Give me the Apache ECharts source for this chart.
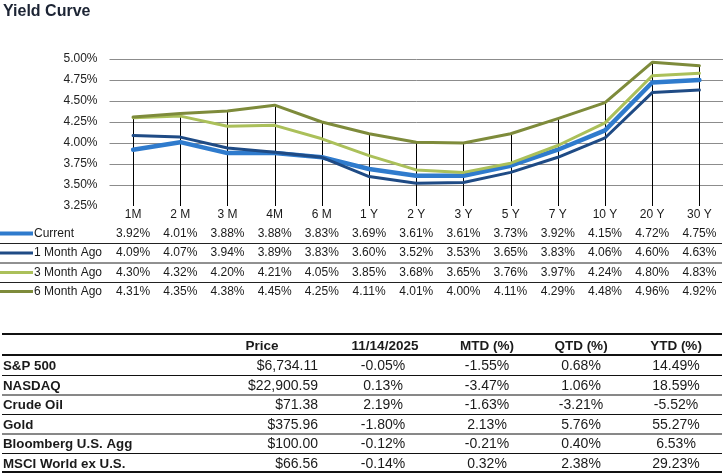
<!DOCTYPE html>
<html><head><meta charset="utf-8">
<script src="https://cdn.jsdelivr.net/npm/echarts@6/dist/echarts.min.js"></script>
<style>html,body{margin:0;padding:0;background:#fff}#c{width:723px;height:474px}</style>
</head><body><div id="c"></div><script>
// ---- Yield curve data ----
const categories = ['1M','2 M','3 M','4M','6 M','1 Y','2 Y','3 Y','5 Y','7 Y','10 Y','20 Y','30 Y'];
const seriesNames = ['Current','1 Month Ago','3 Month Ago','6 Month Ago'];
const current       = [3.92,4.01,3.88,3.88,3.83,3.69,3.61,3.61,3.73,3.92,4.15,4.72,4.75];
const oneMonthAgo   = [4.09,4.07,3.94,3.89,3.83,3.60,3.52,3.53,3.65,3.83,4.06,4.60,4.63];
const threeMonthAgo = [4.30,4.32,4.20,4.21,4.05,3.85,3.68,3.65,3.76,3.97,4.24,4.80,4.83];
const sixMonthAgo   = [4.31,4.35,4.38,4.45,4.25,4.11,4.01,4.00,4.11,4.29,4.48,4.96,4.92];
const yMin = 3.25, yMax = 5.00, yStep = 0.25;

// ---- Market table data ----
const tableHeaders = ['Price','11/14/2025','MTD (%)','QTD (%)','YTD (%)'];
const assets = ['S&P 500','NASDAQ','Crude Oil','Gold','Bloomberg U.S. Agg','MSCI World ex U.S.'];
const prices = [6734.11,22900.59,71.38,375.96,100.00,66.56];
const dayChg = [-0.05,0.13,2.19,-1.80,-0.12,-0.14];
const mtd    = [-1.55,-3.47,-1.63,2.13,-0.21,0.32];
const qtd    = [0.68,1.06,-3.21,5.76,0.40,2.38];
const ytd    = [14.49,18.59,-5.52,55.27,6.53,29.23];

const allSeries = [current, oneMonthAgo, threeMonthAgo, sixMonthAgo];
const colors = ['#2f7bcd','#1f4b85','#abc05a','#7e8b3b'];
const widths = [4.5,3,3,3];
const FONT = 'Liberation Sans';
const txt = '#1a1a1a';

const chart = echarts.init(document.getElementById('c'), null, {renderer:'canvas'});

// table rows under the chart built as extra category axes
const rowOffsets = [18.5, 38, 57.5, 76.5];
const xAxes = [{
  type:'category', data:categories, gridIndex:0, boundaryGap:true,
  axisLine:{show:false}, axisTick:{show:false},
  axisLabel:{color:txt, fontFamily:FONT, fontSize:12, margin:3, interval:0}
}];
allSeries.forEach((s,k)=>{
  xAxes.push({
    type:'category', data:categories, gridIndex:0, position:'bottom', offset:rowOffsets[k],
    axisLine:{show:false}, axisTick:{show:false}, splitLine:{show:false},
    axisLabel:{color:txt, fontFamily:FONT, fontSize:12, margin:3, interval:0,
      formatter:(v,i)=> s[i].toFixed(2)+'%'}
  });
});

const dropData = categories.map((c,i)=>[i, Math.max(...allSeries.map(s=>s[i]))]);

const series = [{
  type:'custom', xAxisIndex:0, yAxisIndex:0, silent:true, z:1,
  data:dropData,
  renderItem:(params, api)=>{
    const top = api.coord([api.value(0), api.value(1)]);
    const bot = api.coord([api.value(0), yMin]);
    return {type:'line', shape:{x1:Math.round(top[0])+0.5,y1:top[1],x2:Math.round(bot[0])+0.5,y2:bot[1]},
      style:{stroke:'#000', lineWidth:1}};
  }
}];
allSeries.forEach((s,k)=>{
  series.push({
    name:seriesNames[k], type:'line', data:s, xAxisIndex:0, yAxisIndex:0,
    symbol:'none', z:2+k, color:colors[k],
    lineStyle:{color:colors[k], width:widths[k], join:'round', cap:'round'}
  });
});

// graphics: title, legend keys for table rows, separator lines, market table
const G = [];
G.push({type:'text', left:3, top:4, style:{text:'Yield Curve', font:'bold 16px "'+FONT+'"', fill:'#1c2434'}});
const rowY = [233.5, 253, 272.5, 291.5];
seriesNames.forEach((n,k)=>{
  G.push({type:'line', shape:{x1:0,y1:rowY[k],x2:33,y2:rowY[k]}, style:{stroke:colors[k], lineWidth:k===0?4:3}});
  G.push({type:'text', x:34, y:rowY[k], style:{text:n, font:'12px "'+FONT+'"', fill:txt, verticalAlign:'middle'}});
});
[243.5, 263, 282.5].forEach(y=>{
  G.push({type:'line', shape:{x1:0,y1:y,x2:722,y2:y}, style:{stroke:'#222', lineWidth:1}});
});

// market table lines
const hl = (y,w)=>G.push({type:'line', shape:{x1:2,y1:y,x2:722,y2:y}, style:{stroke:'#111', lineWidth:w}});
hl(334,2.2); hl(355,2.2);
[375.5,395,414.5,434,453.5].forEach(y=>hl(y,1));
hl(472,2.2);

const headerY = 346.5;
const colX = [262, 385, 487, 581, 676];
tableHeaders.forEach((h,i)=>{
  G.push({type:'text', x:colX[i], y:headerY, style:{text:h, font:'bold 13.5px "'+FONT+'"', fill:txt, align:'center', verticalAlign:'middle'}});
});
const tRowY = [366.5, 386, 405.5, 425, 444.5, 464];
const pct = v => v.toFixed(2)+'%';
assets.forEach((a,r)=>{
  const y = tRowY[r];
  G.push({type:'text', x:3, y, style:{text:a, font:'bold 13.3px "'+FONT+'"', fill:txt, verticalAlign:'middle'}});
  G.push({type:'text', x:318, y, style:{text:'$'+prices[r].toLocaleString('en-US',{minimumFractionDigits:2,maximumFractionDigits:2}),
    font:'14px "'+FONT+'"', fill:txt, align:'right', verticalAlign:'middle'}});
  [dayChg, mtd, qtd, ytd].forEach((arr,j)=>{
    G.push({type:'text', x:[383,487,581,676][j], y, style:{text:pct(arr[r]), font:'14px "'+FONT+'"', fill:txt, align:'center', verticalAlign:'middle'}});
  });
});

const splitColors = [];
for (let v=yMin; v<=yMax+1e-9; v+=yStep) splitColors.push(Math.abs(v-yMin)<1e-9 ? 'rgba(0,0,0,0)' : '#8c8c8c');

chart.setOption({
  backgroundColor:'#fff',
  animation:false,
  grid:{left:109.5, top:59, width:613.5, height:147, containLabel:false},
  xAxis:xAxes,
  yAxis:{type:'value', min:yMin, max:yMax, interval:yStep,
    axisLine:{show:false}, axisTick:{show:false},
    axisLabel:{color:'#222', fontFamily:FONT, fontSize:12, margin:12, formatter:v=>v.toFixed(2)+'%'},
    splitLine:{show:true, lineStyle:{color:splitColors, width:1}}},
  series,
  graphic:G
});
</script></body></html>
